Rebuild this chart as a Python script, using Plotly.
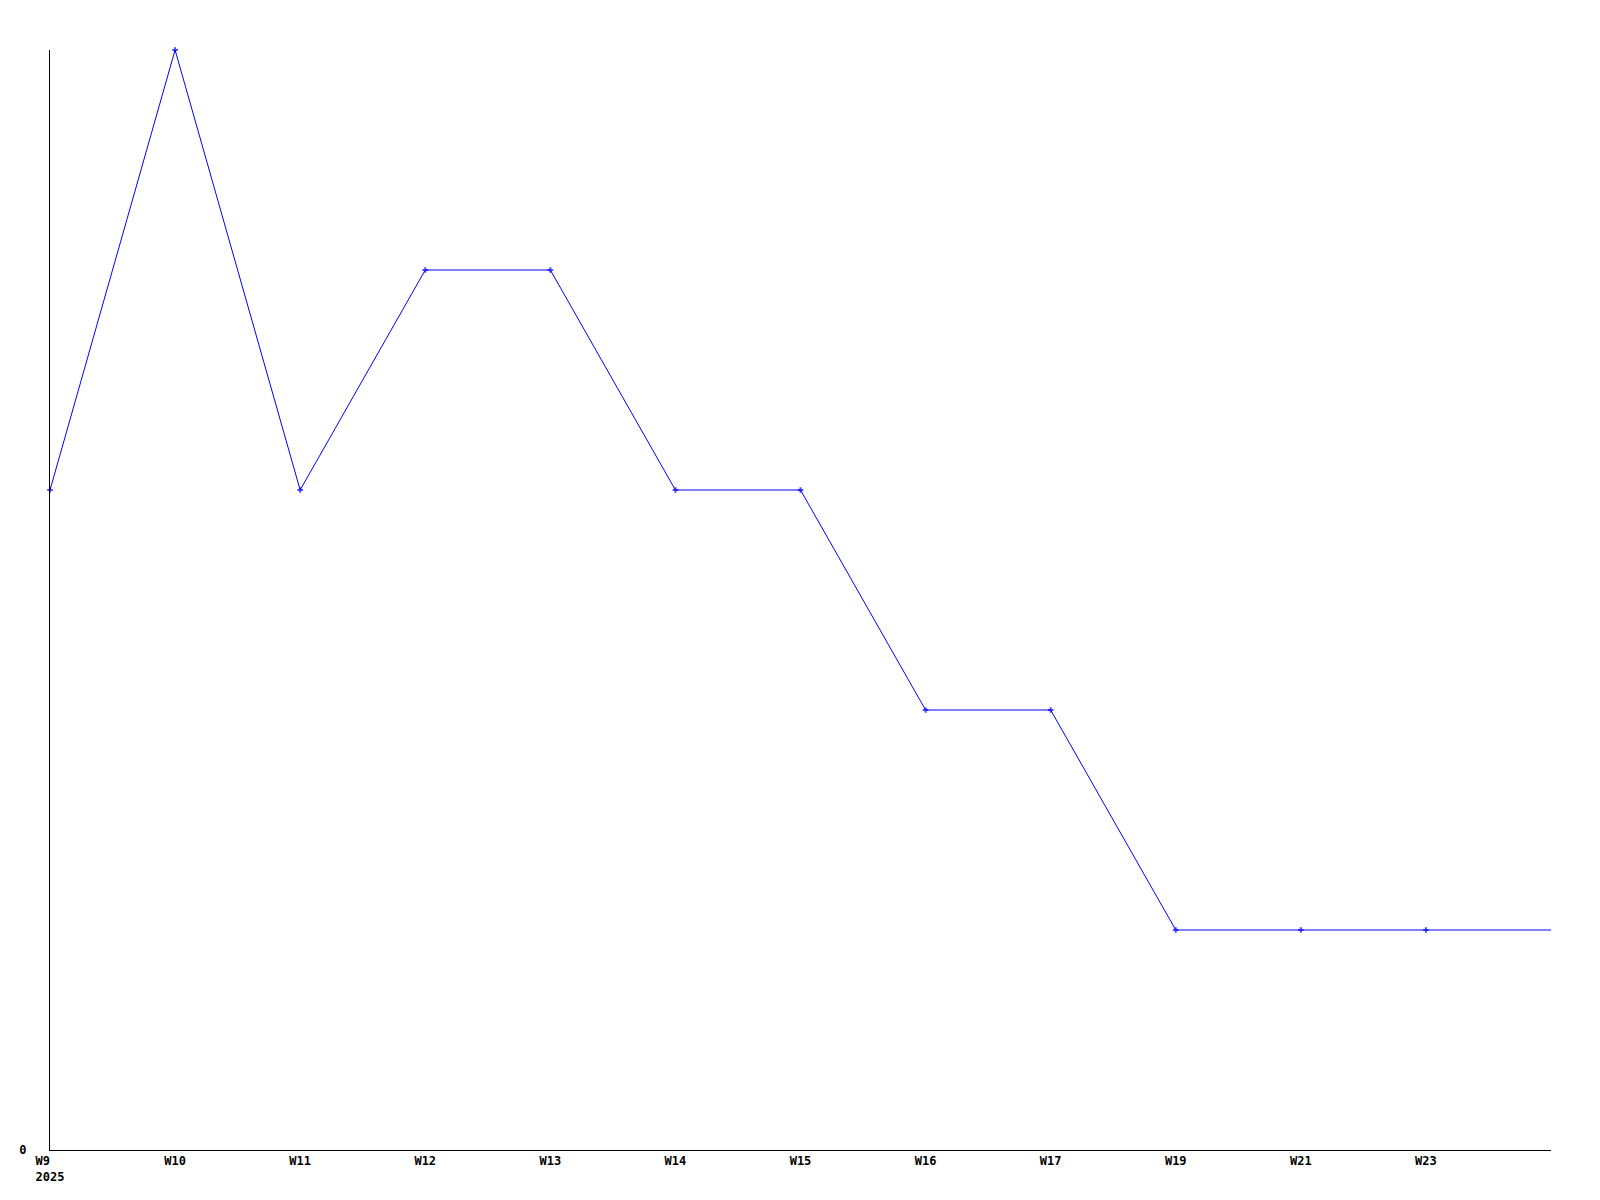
import plotly.graph_objects as go

weeks = ["W9", "W10", "W11", "W12", "W13", "W14", "W15", "W16", "W17", "W19", "W21", "W23", "W25"]
values = [3, 5, 3, 4, 4, 3, 3, 2, 2, 1, 1, 1, 1]
tick_weeks = ["W9", "W10", "W11", "W12", "W13", "W14", "W15", "W16", "W17", "W19", "W21", "W23"]
tick_text = ["W9  <br>2025", "W10", "W11", "W12", "W13", "W14", "W15", "W16", "W17", "W19", "W21", "W23"]

marker_sizes = [4] * (len(values) - 1) + [0]

fig = go.Figure(go.Scatter(
    x=weeks, y=values, mode="lines+markers",
    line=dict(color="#0000ff", width=1),
    marker=dict(color="#0000ff", size=marker_sizes, symbol="cross-thin",
                line=dict(color="#0000ff", width=2)),
    cliponaxis=False,
))

font = dict(family="DejaVu Sans Mono", size=12, color="black", weight="bold")
fig.update_layout(
    width=1600, height=1200,
    margin=dict(l=42, r=57, t=42, b=58),
    paper_bgcolor="white", plot_bgcolor="white",
    showlegend=False,
    xaxis=dict(type="category", range=[0, 12], tickvals=tick_weeks, ticktext=tick_text,
               showgrid=False, zeroline=False, showline=True, linecolor="black", linewidth=1,
               ticks="", tickfont=font),
    yaxis=dict(range=[0, 5], tickvals=[0], ticktext=["0"], showgrid=False, zeroline=False,
               showline=True, linecolor="black", linewidth=1, ticks="", tickfont=font,
               ticklabelstandoff=20),
)
fig.write_html("out.html")
